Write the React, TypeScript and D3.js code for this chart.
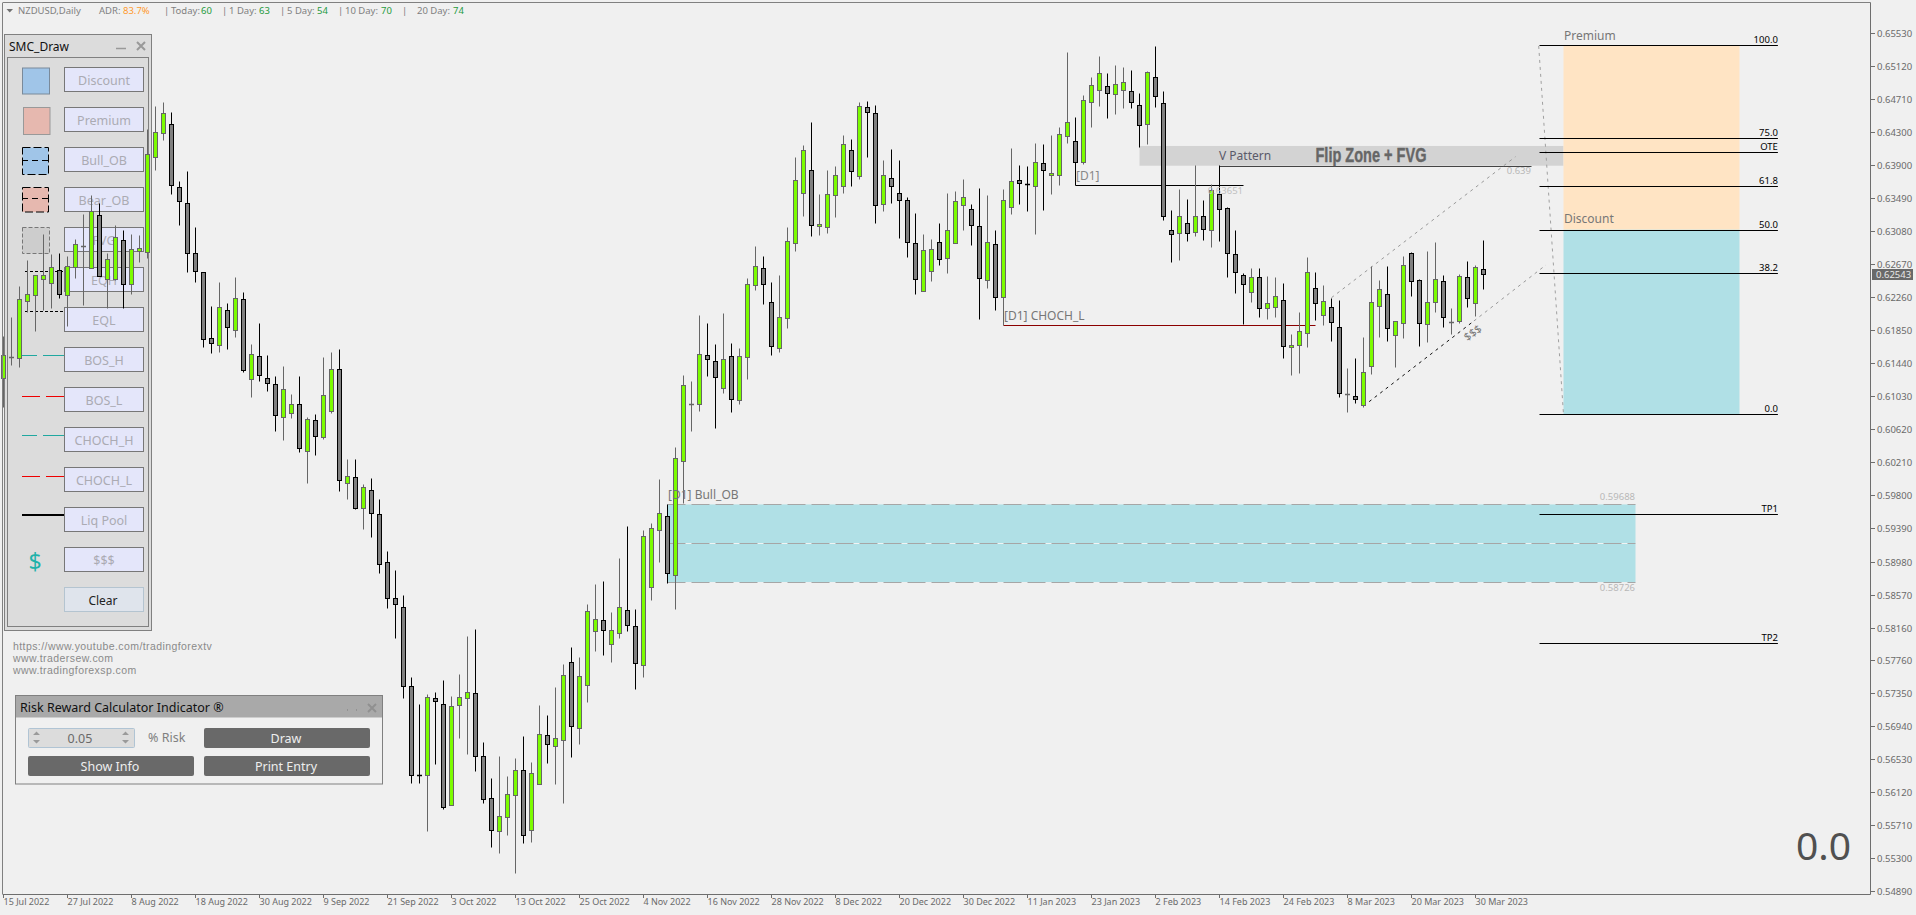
import React, { useEffect, useRef } from 'react';
import * as d3 from 'd3';

// NZDUSD daily bars, prices in points (1 point = 0.00001)
const POINT = 0.00001;

const highs = [
	61777,62012,62397,62719,62533,63041,62793,62806,62769,62979,
	63289,63525,63426,62806,63153,63091,63041,63029,64343,64629,
	64678,64554,63699,63823,63128,62570,62149,62446,62186,62509,
	62322,61677,61938,61541,61281,61405,61057,61281,60772,60809,
	61516,61578,61615,60251,60251,59941,60016,59755,59110,58875,
	58565,57548,57213,57337,57362,57511,57313,57585,58057,58143,
	56742,56296,56569,56321,56544,56817,56494,57201,57077,57424,
	57709,57920,57796,58453,58701,58739,58354,59024,59421,58391,
	59371,59458,60003,59693,60400,61293,61219,62037,61938,61677,
	62062,61690,61628,62496,62893,62769,62446,62533,63128,63996,
	64145,64430,63537,63835,63885,64269,64219,64678,64691,64641,
	63959,64095,63959,63500,63302,63041,62979,63178,63550,63575,
	63723,63413,63612,63525,63091,63599,64108,63897,63885,64170,
	64157,64269,64368,65298,64492,64765,64988,65249,65038,65137,
	65112,65075,64790,65063,65373,64815,63339,63599,63475,63897,
	63463,63661,63897,63376,63091,62558,62620,62620,62521,62508,
	62434,61801,62074,62756,62570,62409,62248,62223,61380,61504,
	61764,62645,62471,62645,61963,62769,62818,62484,62831,62942,
	62533,62124,62545,62707,62657,62967,
];

const lows = [
	60896,61417,61392,62074,61839,62099,62124,62248,61901,62496,
	62161,62620,62521,62124,62471,62124,62297,62694,62744,63835,
	64207,63537,63153,62570,62446,61640,61566,61578,61615,61764,
	61330,61020,61219,61095,60599,60487,60760,60338,59953,60301,
	60499,60822,59855,59755,59631,59383,59284,58838,58404,58031,
	57288,56234,56234,55639,56469,55911,55961,56792,56593,56383,
	55986,55440,55366,55589,55118,55490,55502,56221,56482,56221,
	55986,56556,56717,57238,57871,57821,57734,58032,58119,57400,
	57548,58503,58974,58714,58391,59706,60599,60847,61281,60636,
	61070,60834,60933,61243,62347,62173,61541,61578,61876,62831,
	63265,63017,63029,63054,63252,63550,63637,63723,63996,63178,
	63327,63426,62992,62756,62297,62335,62459,62657,62558,62930,
	63091,62905,61987,62372,62099,61913,63289,63413,63327,63041,
	63339,63537,63649,64170,63649,63909,64368,64629,64480,64529,
	64604,64604,64120,64157,64616,63215,62694,62719,62955,63017,
	62967,62880,62955,62508,62310,61925,62198,62012,61987,62012,
	61504,61293,61318,61640,61975,61913,61715,61020,60834,60946,
	60896,61305,61764,61715,61392,61752,62273,61653,61702,62074,
	61888,61801,61938,62136,62025,62359,
];

const opens = [
	61256,61516,61504,62211,62285,62483,62434,62595,62285,62632,
	62893,62620,63277,62483,62483,62967,62421,62831,62818,63996,
	64294,64405,63624,63426,62806,62570,61752,61665,62099,61851,
	62235,61243,61529,61256,61182,60772,60822,60933,60350,60735,
	60524,60846,61367,59953,60028,59644,59867,59569,58974,58527,
	58416,57437,56333,56333,57288,57213,55961,57201,57288,57350,
	56569,56048,55639,55812,56085,56395,55651,56221,56829,56693,
	56767,57734,56916,57449,58119,58255,57957,58094,58379,58181,
	57697,58664,59371,59545,58813,60226,60933,60933,61541,61466,
	61132,61529,60983,61516,62409,62620,62198,61628,62000,62930,
	63550,63835,63141,63128,63525,63637,64083,63761,64616,64542,
	63413,63736,63550,63463,62930,62335,62583,62942,62744,62930,
	63401,63351,63141,62471,62917,62260,63376,63711,63661,63637,
	63922,63773,63773,64257,64195,63934,64678,64827,64877,64777,
	64827,64815,64641,64405,64988,64666,63091,63054,63178,63066,
	63265,63091,63537,63364,62793,62533,62322,62508,62124,62136,
	62223,61640,61665,61814,62372,62037,62136,61888,61057,61033,
	60921,61405,62149,62297,61789,61938,62806,62471,61925,62198,
	62459,61950,61963,62508,62186,62607,
];

const closes = [
	61541,61516,62235,62297,62533,62533,62632,62297,62645,62917,
	62893,63327,62521,62731,63004,62421,62855,62868,64033,64306,
	64542,63649,63451,62806,62583,61739,61690,62136,61888,62248,
	61355,61553,61293,61194,60797,61120,60933,60388,60747,60537,
	61045,61367,59991,60041,59644,59904,59582,58949,58527,58453,
	57437,56333,56332,57300,57251,55936,57189,57300,57362,56569,
	56035,55651,55825,56097,56395,55589,56358,56841,56717,56792,
	57573,56941,57561,58367,58267,58131,58131,58416,58193,57722,
	59297,59396,59582,58838,60264,61169,60933,61553,61491,61268,
	61491,60995,61529,62421,62645,62421,61653,62012,62955,63711,
	64083,63153,63165,63537,63773,64157,63823,64629,64554,63401,
	63773,63637,63463,62942,62483,62843,62855,62731,63091,63451,
	63500,63153,62496,62942,62260,63463,63699,63674,63660,63934,
	63835,63798,64281,64430,63934,64703,64889,65038,64790,64901,
	64926,64678,64393,65050,64753,63265,63041,63265,63054,63265,
	63103,63587,63351,62806,62570,62421,62508,62124,62186,62272,
	61653,61665,61839,62570,62186,62211,61950,61070,61057,60995,
	61330,62198,62359,61876,61963,62657,62459,61938,62198,62484,
	62012,61950,62521,62248,62632,62543,
];

const dateLabels = [
	'15 Jul 2022','27 Jul 2022','8 Aug 2022','18 Aug 2022','30 Aug 2022','9 Sep 2022',
	'21 Sep 2022','3 Oct 2022','13 Oct 2022','25 Oct 2022','4 Nov 2022','16 Nov 2022',
	'28 Nov 2022','8 Dec 2022','20 Dec 2022','30 Dec 2022','11 Jan 2023','23 Jan 2023',
	'2 Feb 2023','14 Feb 2023','24 Feb 2023','8 Mar 2023','20 Mar 2023','30 Mar 2023',
];
const BARS_PER_LABEL = 8;

const priceTicks = [
	0.6553,0.6512,0.6471,0.643,0.639,0.6349,0.6308,0.6267,0.6226,0.6185,0.6144,0.6103,0.6062,0.6021,
	0.598,0.5939,0.5898,0.5857,0.5816,0.5776,0.5735,0.5694,0.5653,0.5612,0.5571,0.553,0.5489,
];
const lastPrice = 0.62543;

// fib ladder on the right
const fibNames = ['100.0', '75.0', 'OTE', '61.8', '50.0', '38.2', '0.0'];
const fibPrices = [0.65381, 0.64237, 0.64054, 0.63633, 0.63094, 0.62554, 0.60806];
const targetNames = ['TP1', 'TP2'];
const targetPrices = [0.59566, 0.57966];

const bullOb = [0.59688, 0.59207, 0.58726];
const fvgZone = [0.64133, 0.63888];
const lineD1 = 0.63651;
const lineChoch = 0.61909;

const buttons = ['Discount','Premium','Bull_OB','Bear_OB','FVG','EQH','EQL','BOS_H','BOS_L','CHOCH_H','CHOCH_L','Liq Pool','$$$'];

const x = d3.scaleLinear().domain([0, 185]).range([3.5, 1483.5]);
const y = d3.scaleLinear().domain([0.6553, 0.5489]).range([33.3, 891.4]);

const snap = (v: number) => Math.round(v) + 0.5;
const px = (p: number) => snap(y(p));

const UI_FONT = '"Noto Sans", sans-serif';
const AXIS_COLOR = '#6e6e6e';

const Candle = ({ i }: { i: number }) => {
	const cx = x(i);
	const up = closes[i] >= opens[i];
	const top = px(Math.max(opens[i], closes[i]) * POINT);
	const bottom = px(Math.min(opens[i], closes[i]) * POINT);
	const edge = up ? '#666666' : '#000000';
	return (
		<g>
			<line x1={cx} x2={cx} y1={px(highs[i] * POINT)} y2={px(lows[i] * POINT)} stroke={edge} />
			{bottom - top < 1
				? <line x1={cx - 2.5} x2={cx + 2.5} y1={top} y2={top} stroke={edge} strokeWidth={1.5} />
				: <rect x={cx - 2} y={top} width={4} height={bottom - top} fill={up ? '#7cfc00' : '#808080'} stroke={edge} />}
		</g>
	);
};

const Axes = () => {
	const yRef = useRef<SVGGElement>(null);
	const xRef = useRef<SVGGElement>(null);

	useEffect(() => {
		const yAxis = d3.axisRight(y.copy().interpolate(d3.interpolateRound))
			.tickValues(priceTicks)
			.tickSize(4)
			.tickPadding(2)
			.tickFormat(d => (d as number).toFixed(5))
			.offset(0.5);
		const yG = d3.select(yRef.current!).call(yAxis as any);
		yG.select('.domain').remove();
		yG.selectAll('line').attr('stroke', AXIS_COLOR);
		yG.selectAll('text').attr('fill', '#6a6a6a').attr('font-size', 9.5).attr('font-family', UI_FONT);

		const xAxis = d3.axisBottom(d3.scaleLinear().domain([0, 185]).range([3, 1483]))
			.tickValues(dateLabels.map((_, k) => k * BARS_PER_LABEL))
			.tickSize(4)
			.tickPadding(1)
			.tickFormat(d => dateLabels[(d as number) / BARS_PER_LABEL])
			.offset(0.5);
		const xG = d3.select(xRef.current!).call(xAxis as any);
		xG.select('.domain').remove();
		xG.selectAll('line').attr('stroke', AXIS_COLOR);
		xG.selectAll('text')
			.attr('fill', '#6a6a6a')
			.attr('font-size', 9)
			.attr('font-family', UI_FONT)
			.attr('text-anchor', 'start')
			.attr('dx', 0);
	}, []);

	return (
		<g>
			<line x1={2.5} x2={2.5} y1={3} y2={894} stroke="#808080" />
			<line x1={2.5} x2={1870.5} y1={2.5} y2={2.5} stroke="#808080" />
			<line x1={2.5} x2={1870.5} y1={894.5} y2={894.5} stroke={AXIS_COLOR} />
			<line x1={1870.5} x2={1870.5} y1={2.5} y2={894.5} stroke={AXIS_COLOR} />
			<g ref={yRef} transform="translate(1871,0)" />
			<g ref={xRef} transform="translate(0,894)" />
			<rect x={1872} y={269} width={41} height={11} fill="#696969" />
			<text x={1876} y={278} fontSize={9.5} fontFamily={UI_FONT} fill="#e8e8e8">{lastPrice.toFixed(5)}</text>
		</g>
	);
};

const Header = () => {
	const gray = '#808080';
	const items: [string, number, string][] = [
		['NZDUSD,Daily', 18, gray], ['ADR:', 99, gray], ['83.7%', 123, '#ff9a2e'],
		['|', 164, gray], ['Today:', 171, gray], ['60', 201, '#1f9a3c'],
		['|', 222, gray], ['1 Day:', 229, gray], ['63', 259, '#1f9a3c'],
		['|', 280, gray], ['5 Day:', 287, gray], ['54', 317, '#1f9a3c'],
		['|', 338, gray], ['10 Day:', 345, gray], ['70', 381, '#1f9a3c'],
		['|', 402, gray], ['20 Day:', 417, gray], ['74', 453, '#1f9a3c'],
	];
	return (
		<g fontFamily={UI_FONT} fontSize={9.5}>
			<path d="M6.5 9 L13 9 L9.7 12.5 Z" fill="#707070" />
			{items.map(([t, tx, c], k) => <text key={k} x={tx} y={14} fill={c}>{t}</text>)}
		</g>
	);
};

const DashPair = ({ ly, color, a, b }: { ly: number; color: string; a: number[]; b: number[] }) => (
	<g stroke={color}>
		<line x1={a[0]} x2={a[1]} y1={ly} y2={ly} />
		<line x1={b[0]} x2={b[1]} y1={ly} y2={ly} />
	</g>
);

const SmcPanel = () => (
	<g fontFamily={UI_FONT}>
		<rect x={4.5} y={34.5} width={147} height={596} fill="#dcdcdc" stroke="#808080" />
		<rect x={7.5} y={57.5} width={141} height={569} fill="#dcdcdc" stroke="#808080" />
		<text x={9} y={51} fontSize={12} fill="#111">SMC_Draw</text>
		<line x1={116} x2={126} y1={48.5} y2={48.5} stroke="#999" strokeWidth={1.5} />
		<path d="M137 42 L145 50 M145 42 L137 50" stroke="#999" strokeWidth={2} />

		<rect x={22.5} y={68} width={27} height={26} fill="#a0c5e8" stroke="#7a8a9a" strokeWidth={1} />
		<rect x={23.5} y={107.5} width={26.5} height={27} fill="#e6b8af" stroke="#999" />
		<rect x={22.5} y={147.5} width={26} height={27} fill="#a0c5e8" stroke="#000" strokeDasharray="8 3" />
		<line x1={22} x2={49} y1={160.5} y2={160.5} stroke="#000" strokeDasharray="6 4" />
		<rect x={22.5} y={187.5} width={26} height={24.5} fill="#e6b8af" stroke="#000" strokeDasharray="8 3" />
		<line x1={22} x2={49} y1={198.5} y2={198.5} stroke="#000" strokeDasharray="6 4" />
		<rect x={22.5} y={227.5} width={27} height={26} fill="#cdcdcd" stroke="#777" strokeDasharray="4 2" />

		<line x1={25} x2={66} y1={271.5} y2={271.5} stroke="#000" strokeDasharray="3 2" />
		<line x1={25} x2={66} y1={311.5} y2={311.5} stroke="#000" strokeDasharray="3 2" />
		<DashPair ly={355.5} color="#20a8a0" a={[22, 37]} b={[43, 64]} />
		<DashPair ly={396.5} color="#ee0000" a={[22, 40]} b={[46, 64]} />
		<DashPair ly={435.5} color="#20a8a0" a={[22, 37]} b={[43, 64]} />
		<DashPair ly={476.5} color="#ee0000" a={[22, 40]} b={[46, 64]} />
		<line x1={22} x2={64} y1={515} y2={515} stroke="#000" strokeWidth={2} />
		<text x={35} y={570} fontSize={23} fill="#20b2aa" textAnchor="middle">$</text>

		{buttons.map((b, k) => (
			<g key={b}>
				<rect x={64.5} y={67.5 + k * 40} width={79} height={24} fill="#e4e6fa" stroke="#777" />
				<text x={104} y={84.5 + k * 40} fontSize={12.5} fill="#ababb3" textAnchor="middle">{b}</text>
			</g>
		))}
		<rect x={64.5} y={587.5} width={79} height={24} fill="#dfe4ec" stroke="#b4c4d0" />
		<text x={103} y={604.5} fontSize={12} fill="#222" textAnchor="middle">Clear</text>
	</g>
);

const RiskPanel = () => (
	<g fontFamily={UI_FONT}>
		<rect x={15.5} y={695.5} width={367} height={88.5} fill="#f0f0f0" stroke="#808080" />
		<rect x={16} y={696} width={366} height={21.5} fill="#a9a9a9" />
		<text x={20} y={712} fontSize={12.5} fill="#111">Risk Reward Calculator Indicator ®</text>
		<path d="M347 710 h1 M356 710 h1" stroke="#8a8a8a" strokeWidth={1.5} />
		<path d="M368 704 L376 712 M376 704 L368 712" stroke="#909090" strokeWidth={2} />

		<rect x={28.5} y={728.5} width={106} height={19} rx={1} fill="#dcdcdc" stroke="#b0c4d4" />
		<path d="M33 735 L40 735 L36.5 731.5 Z M33 740 L40 740 L36.5 743.5 Z M122 735 L129 735 L125.5 731.5 Z M122 740 L129 740 L125.5 743.5 Z" fill="#9a9a9a" />
		<text x={80} y={743} fontSize={12.5} fill="#6a6a6a" textAnchor="middle">0.05</text>
		<text x={148} y={742} fontSize={12.5} fill="#808080">% Risk</text>

		<rect x={204} y={728} width={166} height={20} rx={2} fill="#696969" />
		<text x={286} y={743} fontSize={12.5} fill="#eeeeee" textAnchor="middle">Draw</text>
		<rect x={28} y={756} width={166} height={20} rx={2} fill="#696969" />
		<text x={110} y={771} fontSize={12.5} fill="#eeeeee" textAnchor="middle">Show Info</text>
		<rect x={204} y={756} width={166} height={20} rx={2} fill="#696969" />
		<text x={286} y={771} fontSize={12.5} fill="#eeeeee" textAnchor="middle">Print Entry</text>
	</g>
);

// drawn objects on the chart, anchored on bar index and price
const Objects = () => {
	const segment = d3.line<[number, number]>().x(d => x(d[0])).y(d => y(d[1]));
	const dotted = { fill: 'none', strokeDasharray: '3 4' };
	return (
		<g>
			{/* bullish order block */}
			<rect x={x(83)} y={y(bullOb[0])} width={x(204) - x(83)} height={y(bullOb[2]) - y(bullOb[0])} fill="#b0e0e6" />
			<line x1={x(83)} x2={x(204)} y1={px(bullOb[1])} y2={px(bullOb[1])} stroke="#f0f4f4" />
			{bullOb.map(p => (
				<line key={p} x1={x(83)} x2={x(204)} y1={px(p)} y2={px(p)} stroke="#a6a6a6" strokeDasharray="18 6" />
			))}
			{/* flip zone */}
			<rect x={x(142)} y={y(fvgZone[0])} width={x(195) - x(142)} height={y(fvgZone[1]) - y(fvgZone[0])} fill="#d3d3d3" />
			{/* fib box */}
			<rect x={x(195)} y={y(fibPrices[0])} width={x(217) - x(195)} height={y(fibPrices[4]) - y(fibPrices[0])} fill="#ffe4c4" />
			<rect x={x(195)} y={y(fibPrices[4])} width={x(217) - x(195)} height={y(fibPrices[6]) - y(fibPrices[4])} fill="#b0e0e6" />

			<line x1={x(152)} x2={x(191)} y1={px(fvgZone[1])} y2={px(fvgZone[1])} stroke="#444" />
			<line x1={x(134)} x2={x(155)} y1={px(lineD1)} y2={px(lineD1)} stroke="#000" />
			<line x1={x(125)} x2={x(164)} y1={px(lineChoch)} y2={px(lineChoch)} stroke="#8b0000" />

			<path d={segment([[166, 0.62252], [189, 0.64]])!} stroke="#999" {...dotted} />
			<path d={segment([[183.8, 0.61963], [192.8, 0.62657]])!} stroke="#999" {...dotted} />
			<path d={segment([[170.7, 0.60962], [183.8, 0.61963]])!} stroke="#111" {...dotted} />
			<path d={segment([[191.9, 0.65373], [195, 0.60806]])!} stroke="#a0a0a0" {...dotted} />

			{fibNames.map((n, k) => (
				<g key={n}>
					<line x1={x(192)} x2={x(221.8)} y1={px(fibPrices[k])} y2={px(fibPrices[k])} stroke="#000" />
					<text x={x(221.8)} y={px(fibPrices[k]) - 3} fontSize={9.5} fontFamily={UI_FONT} textAnchor="end" fill="#000">{n}</text>
				</g>
			))}
			{targetNames.map((n, k) => (
				<g key={n}>
					<line x1={x(192)} x2={x(221.8)} y1={px(targetPrices[k])} y2={px(targetPrices[k])} stroke="#000" />
					<text x={x(221.8)} y={px(targetPrices[k]) - 3} fontSize={9.5} fontFamily={UI_FONT} textAnchor="end" fill="#000">{n}</text>
				</g>
			))}
		</g>
	);
};

const Labels = () => (
	<g fontFamily={UI_FONT}>
		<text x={668} y={499} fontSize={12} fill="#777">[D1] Bull_OB</text>
		<text x={1635} y={500} fontSize={9.5} fill="#b8b8b8" textAnchor="end">0.59688</text>
		<text x={1635} y={591} fontSize={9.5} fill="#b8b8b8" textAnchor="end">0.58726</text>
		<text x={1219} y={160} fontSize={12} fill="#5a5a6a">V Pattern</text>
		<text x={1371} y={162} fontSize={20} fontWeight="bold" fontFamily="Liberation Sans" fill="#666" stroke="#666" strokeWidth={0.4} textAnchor="middle" textLength={111} lengthAdjust="spacingAndGlyphs">Flip Zone + FVG</text>
		<text x={1531} y={174} fontSize={9.5} fill="#b8b8b8" textAnchor="end">0.639</text>
		<text x={1076} y={180} fontSize={12} fill="#888">[D1]</text>
		<text x={1243} y={194} fontSize={9.5} fill="#c0c0c0" textAnchor="end">0.63651</text>
		<text x={1004} y={320} fontSize={12} fill="#777">[D1] CHOCH_L</text>
		<text x={1564} y={40} fontSize={12} fill="#777">Premium</text>
		<text x={1564} y={223} fontSize={12} fill="#777">Discount</text>
		<text x={0} y={0} fontSize={11} fill="#777" transform="translate(1475,336) rotate(-35)" textAnchor="middle">$$$</text>
		<g fontFamily="Liberation Sans" fontSize={10.5} fill="#8a8a8a" letterSpacing={0.42}>
			<text x={13} y={650}>https://www.youtube.com/tradingforextv</text>
			<text x={13} y={662}>www.tradersew.com</text>
			<text x={13} y={674}>www.tradingforexsp.com</text>
		</g>
		<text x={1796} y={860} fontSize={39} fill="#505050">0.0</text>
	</g>
);

const App = () => (
	<svg width={1916} height={915} style={{ position: 'absolute', left: 0, top: 0, display: 'block' }}>
		<rect width={1916} height={915} fill="#f0f0f0" />
		<SmcPanel />
		<Objects />
		{highs.map((_, i) => <Candle key={i} i={i} />)}
		<Labels />
		<Header />
		<RiskPanel />
		<Axes />
	</svg>
);

export default App;
